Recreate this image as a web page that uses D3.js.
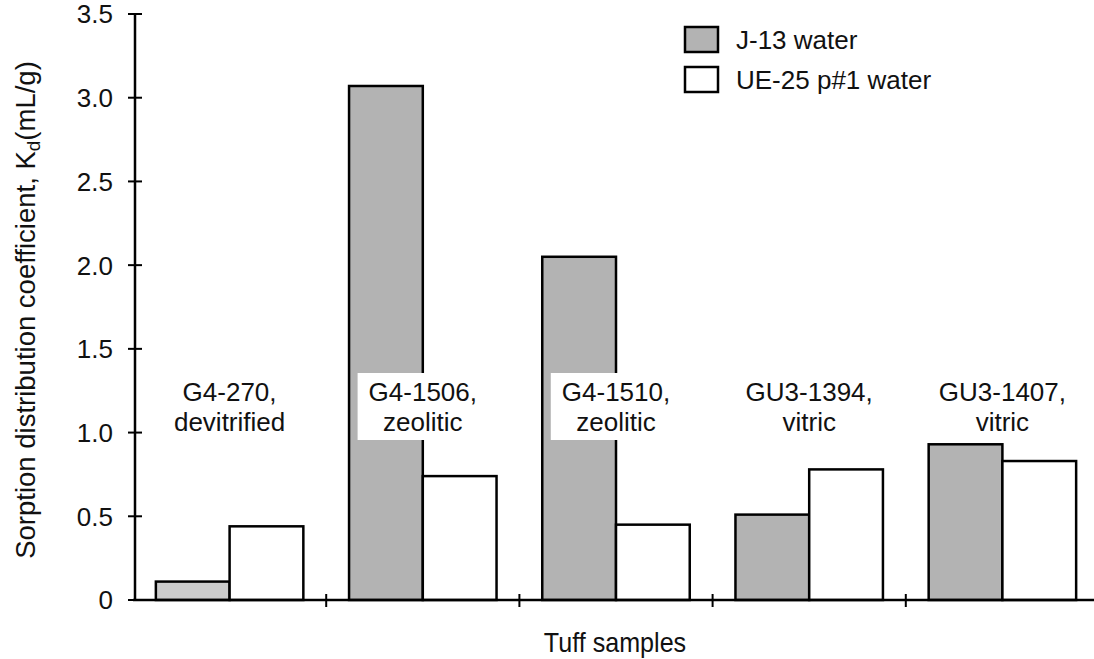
<!DOCTYPE html>
<html>
<head>
<meta charset="utf-8">
<script src="https://cdn.jsdelivr.net/npm/d3@7"></script>
<style>
  html, body { margin: 0; padding: 0; background: #fff; }
  svg { display: block; font-family: "Liberation Sans", Arial, sans-serif; }
</style>
</head>
<body>
<svg id="chart" width="1094" height="659"></svg>
<script>
// ---- data ----
const categories = ["G4-270", "G4-1506", "G4-1510", "GU3-1394", "GU3-1407"];
const labelLine1 = ["G4-270,", "G4-1506,", "G4-1510,", "GU3-1394,", "GU3-1407,"];
const labelLine2 = ["devitrified", "zeolitic", "zeolitic", "vitric", "vitric"];
const seriesNames = ["J-13 water", "UE-25 p#1 water"];
const j13Values = [0.11, 3.07, 2.05, 0.51, 0.93];
const ue25Values = [0.44, 0.74, 0.45, 0.78, 0.83];
const yTicks = [0, 0.5, 1.0, 1.5, 2.0, 2.5, 3.0, 3.5];

// ---- layout ----
const svg = d3.select("#chart");
const fontSize = 26;

const y = d3.scaleLinear().domain([0, 3.5]).range([600, 14]);
const x0 = d3.scaleBand().domain(categories).range([133, 1099]).padding(0);
const x1 = d3.scaleBand().domain(seriesNames).range([0, x0.bandwidth()])
  .paddingInner(0).paddingOuter(0.31);

const fills = { "J-13 water": "#b3b3b3", "UE-25 p#1 water": "#ffffff" };

const rows = categories.map((c, i) => ({
  cat: c, i,
  vals: [
    { s: seriesNames[0], v: j13Values[i] },
    { s: seriesNames[1], v: ue25Values[i] }
  ]
}));

// bars
const g = svg.append("g");
const groups = g.selectAll("g.grp").data(rows).join("g")
  .attr("class", "grp")
  .attr("transform", d => `translate(${x0(d.cat)},0)`);

groups.selectAll("rect").data(d => d.vals.map(v => ({ ...v, i: d.i }))).join("rect")
  .attr("x", d => x1(d.s))
  .attr("y", d => y(d.v))
  .attr("width", x1.bandwidth())
  .attr("height", d => y(0) - y(d.v))
  .attr("fill", d => d.s === seriesNames[0] ? (d.i === 0 ? "#cbcbcb" : fills[d.s]) : fills[d.s])
  .attr("stroke", "#000")
  .attr("stroke-width", 2.5);

// category labels with white boxes
const labels = svg.append("g");
rows.forEach(d => {
  const cx = x0(d.cat) + x0.bandwidth() / 2;
  const lg = labels.append("g");
  const t = lg.append("text")
    .attr("text-anchor", "middle")
    .attr("font-size", fontSize)
    .attr("fill", "#111");
  t.append("tspan").attr("x", cx).attr("y", 401).text(labelLine1[d.i]);
  t.append("tspan").attr("x", cx).attr("y", 431).text(labelLine2[d.i]);
  const bb = t.node().getBBox();
  lg.insert("rect", "text")
    .attr("x", bb.x - 11)
    .attr("y", 373)
    .attr("width", bb.width + 22)
    .attr("height", 67)
    .attr("fill", "#fff");
});

// y axis
const axisG = svg.append("g");
axisG.append("line")
  .attr("x1", 135).attr("x2", 135)
  .attr("y1", y(0)).attr("y2", y(3.5))
  .attr("stroke", "#000").attr("stroke-width", 2.5);
axisG.selectAll("line.ytick").data(yTicks).join("line")
  .attr("class", "ytick")
  .attr("x1", 128).attr("x2", 142)
  .attr("y1", d => y(d)).attr("y2", d => y(d))
  .attr("stroke", "#000").attr("stroke-width", 2);
axisG.selectAll("text.ylab").data(yTicks).join("text")
  .attr("class", "ylab")
  .attr("x", 113)
  .attr("y", d => y(d))
  .attr("dy", "0.36em")
  .attr("text-anchor", "end")
  .attr("font-size", fontSize)
  .attr("fill", "#111")
  .text(d => d === 0 ? "0" : d3.format(".1f")(d));

// x axis
axisG.append("line")
  .attr("x1", 133).attr("x2", 1094)
  .attr("y1", y(0)).attr("y2", y(0))
  .attr("stroke", "#000").attr("stroke-width", 2.5);
const seps = categories.slice(1).map(c => x0(c));
axisG.selectAll("line.xtick").data(seps).join("line")
  .attr("class", "xtick")
  .attr("x1", d => d).attr("x2", d => d)
  .attr("y1", y(0) - 6).attr("y2", y(0) + 7)
  .attr("stroke", "#000").attr("stroke-width", 2);

// axis titles
svg.append("text")
  .attr("transform", "translate(615,652) scale(0.93,1)")
  .attr("text-anchor", "middle")
  .attr("font-size", 27)
  .attr("fill", "#111")
  .text("Tuff samples");

const yt = svg.append("text")
  .attr("transform", "translate(35,310) rotate(-90)")
  .attr("text-anchor", "middle")
  .attr("font-size", 27.5)
  .attr("fill", "#111");
yt.append("tspan").text("Sorption distribution coefficient, K");
yt.append("tspan").attr("font-size", 19).attr("dy", 5).text("d");
yt.append("tspan").attr("dy", -5).text("(mL/g)");

// legend
const leg = svg.append("g");
seriesNames.forEach((s, i) => {
  const yy = 27 + i * 40;
  leg.append("rect")
    .attr("x", 685).attr("y", yy)
    .attr("width", 33).attr("height", 25)
    .attr("fill", fills[s])
    .attr("stroke", "#000").attr("stroke-width", 2.5);
  leg.append("text")
    .attr("x", 736).attr("y", yy + 12.5)
    .attr("dy", "0.36em")
    .attr("font-size", fontSize)
    .attr("fill", "#111")
    .text(s);
});
</script>
</body>
</html>
